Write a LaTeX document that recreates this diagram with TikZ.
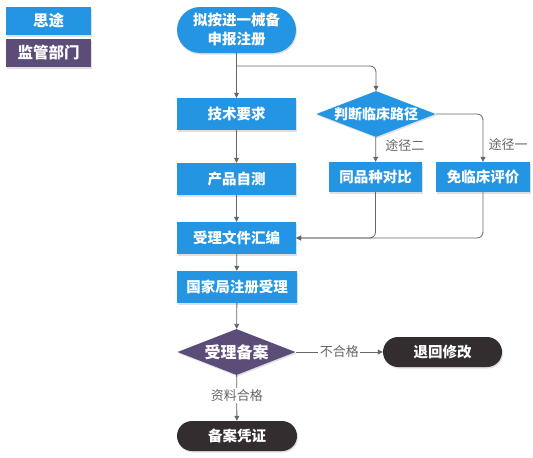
\documentclass[tikz,border=0pt]{standalone}
\usepackage{fontspec}
\usepackage{tikz}
\usetikzlibrary{shapes.geometric,arrows.meta,shadows}
\newfontfamily\cjk{Noto Sans CJK SC}
\definecolor{stblue}{HTML}{2495E3}
\definecolor{stpurple}{HTML}{5C4D78}
\definecolor{stdark}{HTML}{332D30}
\definecolor{stline}{HTML}{666666}

\begin{document}
\begin{tikzpicture}[
	  x=1pt,y=-1pt,
	  box/.style={fill=stblue,text=white,font=\cjk\bfseries\fontsize{14.5}{17}\selectfont,
	    inner sep=0pt,minimum width=119pt,minimum height=32pt,
	    drop shadow={opacity=.25,shadow xshift=1pt,shadow yshift=-1.5pt}},
	  legendbox/.style={box,font=\cjk\bfseries\fontsize{15.5}{18}\selectfont,minimum width=85pt,minimum height=28pt},
	  pill/.style={box,rounded corners=15pt,fill=stdark,minimum height=30pt},
	  choice/.style={box,diamond,aspect=2.6,minimum width=118pt,minimum height=46pt},
	  arr/.style={draw=stline,line width=.8pt,-{Triangle[length=5pt,width=5pt]}},
	  lbl/.style={fill=white,text=stline,inner sep=1.5pt,font=\cjk\fontsize{13}{15}\selectfont}
	]
		\useasboundingbox (0,0) rectangle (533,458);
		% legend
		\node [legendbox] (blue) at (48.5,21) {思途};
		\node [legendbox,fill=stpurple] (purple) at (48.5,53) {监管部门};
		% main column
		\node [box,rounded corners=23pt,minimum height=46pt,align=center,font=\cjk\bfseries\fontsize{14.5}{19}\selectfont] (start) at (236.5,30) {拟按进一械备\\申报注册};
		\node [box] (tech) at (236.5,114) {技术要求};
		\node [box] (selftest) at (236.5,179) {产品自测};
		\node [box] (compile) at (236.5,238) {受理文件汇编};
		\node [box,minimum width=120pt] (accept) at (237,287) {国家局注册受理};
		\node [choice,fill=stpurple,font=\cjk\bfseries\fontsize{16}{18}\selectfont] (filing) at (236.5,352) {受理备案};
		\node [pill,minimum width=120pt] (cert) at (237,436) {备案凭证};
		\node [pill] (reject) at (442.5,352) {退回修改};
		% clinical path
		\node [choice,font=\cjk\bfseries\fontsize{14}{17}\selectfont] (judge) at (376,114) {判断临床路径};
		\node [box,minimum width=93pt,minimum height=30pt] (same) at (375.5,177) {同品种对比};
		\node [box,minimum width=94pt,minimum height=30pt] (exempt) at (483,177) {免临床评价};
		\coordinate (fork) at (236.5,66);
		% connectors
		\draw [arr] (start) -- (tech);
		\draw [arr,rounded corners=6pt] (fork) -| (judge.north);
		\draw [arr] (tech) -- (selftest);
		\draw [arr] (selftest) -- (compile);
		\draw [arr] (compile) -- (accept);
		\draw [arr] (accept) -- (filing);
		\draw [arr] (judge) -- node [lbl,fill=none,pos=.32,xshift=29pt] {途径二} (same);
		\draw [arr,rounded corners=6pt] (judge.east) -| node [lbl,fill=none,pos=.82,xshift=25pt] {途径一} (exempt.north);
		\draw [arr,rounded corners=6pt] (exempt.south) |- (compile.east);
		\draw [arr,rounded corners=6pt] (same.south) |- (compile.east);
		\draw [arr] (filing) -- node [lbl,pos=.45] {资料合格} (cert);
		\draw [arr] (filing) -- node [lbl,pos=.5] {不合格} (reject);
	\end{tikzpicture}
\end{document}
